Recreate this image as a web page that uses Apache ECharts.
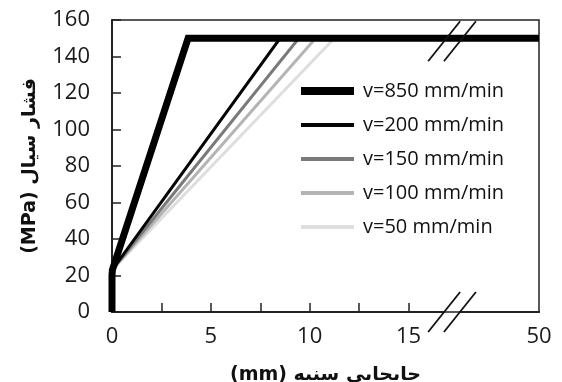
<!DOCTYPE html>
<html>
<head>
<meta charset="utf-8">
<script src="https://cdn.jsdelivr.net/npm/echarts@6/dist/echarts.min.js"></script>
<style>
  html, body { margin: 0; padding: 0; background: #fff; }
  #main { width: 562px; height: 382px; }
</style>
</head>
<body>
<div id="main"></div>
<script>
// داده ها (mm, MPa)
var names = ['v=850 mm/min', 'v=200 mm/min', 'v=150 mm/min', 'v=100 mm/min', 'v=50 mm/min'];
var v850 = [[0, 0], [0, 20], [0.02, 23], [3.85, 150], [50, 150]];
var v200 = [[0, 23], [8.5, 150], [50, 150]];
var v150 = [[0, 23], [9.45, 150], [50, 150]];
var v100 = [[0, 23], [10.3, 150], [50, 150]];
var v50 = [[0, 23], [11.25, 150], [50, 150]];
var xTicks = [0, 2.5, 5, 7.5, 10, 12.5, 15];
var xLabels = [0, 5, 10, 15, 50];
var yTicks = [0, 20, 40, 60, 80, 100, 120, 140, 160];
var breakStart = 16.8, breakEnd = 46;

var colors = ['#000000', '#050505', '#7a7a7a', '#b4b4b4', '#dedede'];
var widths = [7, 3, 3, 3, 3];
var legendWidths = [8, 4, 4, 4, 4];
var font = '"Open Sans", sans-serif';

var myChart = echarts.init(document.getElementById('main'));

var series = [v850, v200, v150, v100, v50].map(function (d, i) {
  return {
    name: names[i],
    type: 'line',
    data: d,
    symbol: 'none',
    z: 10 - i,
    lineStyle: { color: colors[i], width: widths[i], join: 'miter' },
    itemStyle: { color: colors[i] }
  };
});

myChart.setOption({
  animation: false,
  backgroundColor: '#fff',
  grid: {
    left: 112, right: 23, top: 20, bottom: 70,
    show: true, borderColor: '#222', borderWidth: 1.5,
    outerBoundsMode: 'none'
  },
  legend: {
    orient: 'vertical',
    left: 297, top: 81,
    padding: 0,
    itemWidth: 53, itemHeight: 14, itemGap: 14,
    itemStyle: { opacity: 0 },
    data: names.map(function (n, i) {
      return { name: n, lineStyle: { color: colors[i], width: legendWidths[i], cap: 'butt' } };
    }),
    textStyle: { fontFamily: font, fontSize: 20, color: '#111', lineHeight: 20, padding: [0, 0, 0, 4] }
  },
  xAxis: {
    type: 'value',
    min: 0, max: 50,
    breaks: [{ start: breakStart, end: breakEnd, gap: '3.7%' }],
    breakArea: { show: false },
    name: '(mm) جابجایی سنبه',
    nameLocation: 'middle',
    nameGap: 54,
    nameTextStyle: { fontFamily: '"DejaVu Sans", sans-serif', fontSize: 19, fontWeight: 'bold', color: '#111' },
    axisLine: { show: true, onZero: false, lineStyle: { color: '#222', width: 2 } },
    axisTick: { show: true, inside: true, length: 9, customValues: xTicks, lineStyle: { color: '#222', width: 1.5 } },
    axisLabel: {
      customValues: xLabels, margin: 14,
      fontFamily: font, fontSize: 22, color: '#1a1a1a'
    },
    splitLine: { show: false }
  },
  yAxis: {
    type: 'value',
    min: 0, max: 160, interval: 20,
    name: '(MPa) فشار سیال',
    nameLocation: 'middle',
    nameGap: 72,
    nameRotate: 90,
    nameTextStyle: { fontFamily: '"DejaVu Sans", sans-serif', fontSize: 19, fontWeight: 'bold', color: '#111' },
    axisLine: { show: true, lineStyle: { color: '#222', width: 2 } },
    axisTick: { show: true, inside: true, length: 9, customValues: yTicks, lineStyle: { color: '#222', width: 1.5 } },
    axisLabel: { margin: 22, fontFamily: font, fontSize: 22, color: '#1a1a1a' },
    splitLine: { show: false }
  },
  series: series
});

// علامت شکست محور
var p1 = myChart.convertToPixel({ xAxisIndex: 0 }, breakStart);
var p2 = myChart.convertToPixel({ xAxisIndex: 0 }, breakEnd);
var yBottom = myChart.convertToPixel({ yAxisIndex: 0 }, 0);
var yTop = myChart.convertToPixel({ yAxisIndex: 0 }, 150) + 3;
var slashes = [];
[p1, p2].forEach(function (px) {
  [yBottom, yTop].forEach(function (py) {
    slashes.push({
      type: 'line',
      z: 100,
      shape: { x1: px - 16, y1: py + 20, x2: px + 16, y2: py - 20 },
      style: { stroke: '#111', lineWidth: 1.8 }
    });
  });
});
myChart.setOption({ graphic: slashes });
</script>
</body>
</html>
